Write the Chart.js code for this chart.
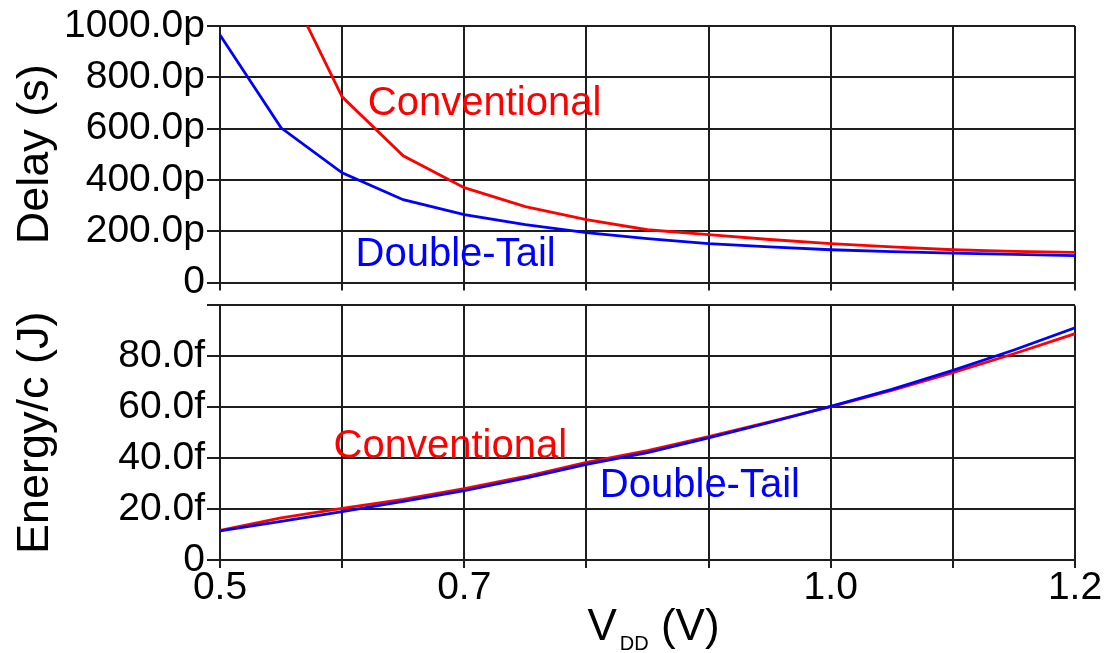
<!DOCTYPE html>
<html>
<head>
<meta charset="utf-8">
<script src="https://cdn.jsdelivr.net/npm/chart.js@4"></script>
<style>
  body { margin: 0; background: #fff; }
  #wrap { position: relative; width: 1105px; height: 653px; }
  #delayBox { position: absolute; left: 0; top: 0; }
  #energyBox { position: absolute; left: 0; top: 280px; }
</style>
</head>
<body>
<div id="wrap">
  <div id="delayBox"><canvas id="delayChart" width="1105" height="308"></canvas></div>
  <div id="energyBox"><canvas id="energyChart" width="1105" height="373"></canvas></div>
</div>
<script>
// --- Data ---
const vdd = [0.5, 0.55, 0.6, 0.65, 0.7, 0.75, 0.8, 0.85, 0.9, 0.95, 1.0, 1.05, 1.1, 1.15, 1.2];

// delay in ps
const delayConventional = [null, 1210, 724, 494, 370, 296, 245, 206, 187, 168, 152, 139, 128, 122, 118];
const delayDoubleTail   = [965, 603, 428, 323, 265, 226, 195, 171, 152, 139, 128, 121, 115, 110, 105];

// energy per cycle in fJ
const energyConventional = [11.6, 16.5, 20.3, 23.8, 28.0, 32.8, 38.3, 43.0, 48.5, 54.3, 60.2, 66.6, 73.6, 81.0, 88.9];
const energyDoubleTail   = [11.4, 15.2, 19.0, 23.0, 27.2, 32.2, 37.6, 42.2, 48.0, 54.0, 60.3, 67.0, 74.5, 82.5, 91.2];

// tick labels
const xTickLabels = ['0.5', '0.7', '1.0', '1.2'];
const delayTickLabels = ['0', '200.0p', '400.0p', '600.0p', '800.0p', '1000.0p'];
const energyTickLabels = ['0', '20.0f', '40.0f', '60.0f', '80.0f', ''];

// in-plot curve names (anchored in data units)
const delayNotes = [
    { text: 'Conventional', x: 0.621, y: 655, color: '#ff0000' },
    { text: 'Double-Tail', x: 0.611, y: 66, color: '#0000ff' }
];
const energyNotes = [
    { text: 'Conventional', x: 0.593, y: 40, color: '#ff0000' },
    { text: 'Double-Tail', x: 0.811, y: 24.7, color: '#0000ff' }
];

const RED = '#ff0000';
const BLUE = '#0000ff';
const GRID = '#1e1e1e';
const FONT = "'Liberation Sans', Arial, sans-serif";

function toPoints(ys) {
    return vdd.map((v, i) => ({ x: v, y: ys[i] }));
}

function lineSet(label, ys, color) {
    return {
        label: label,
        data: toPoints(ys),
        borderColor: color,
        borderWidth: 2.8,
        pointRadius: 0,
        tension: 0,
        fill: false
    };
}

// draws the curve names inside the plot
const notesPlugin = {
    id: 'notes',
    afterDatasetsDraw(chart, args, opts) {
        const ctx = chart.ctx;
        ctx.save();
        ctx.font = '40px ' + FONT;
        ctx.textAlign = 'left';
        ctx.textBaseline = 'alphabetic';
        (opts.items || []).forEach(n => {
            ctx.fillStyle = n.color;
            ctx.fillText(n.text, chart.scales.x.getPixelForValue(n.x), chart.scales.y.getPixelForValue(n.y));
        });
        ctx.restore();
    }
};

// x title with a subscript: V_DD (V)
const vddTitlePlugin = {
    id: 'vddTitle',
    afterDraw(chart, args, opts) {
        if (!opts.show) return;
        const ctx = chart.ctx;
        const a = chart.chartArea;
        const big = '44px ' + FONT;
        const small = '20px ' + FONT;
        ctx.save();
        ctx.fillStyle = '#000';
        ctx.textBaseline = 'alphabetic';
        ctx.font = big;
        const wV = ctx.measureText('V').width;
        const wRest = ctx.measureText(' (V)').width;
        ctx.font = small;
        const wSub = ctx.measureText('DD').width;
        const total = wV + 3 + wSub + wRest;
        let x = (a.left + a.right) / 2 - total / 2 + 6;
        const base = chart.height - 13;
        ctx.font = big;
        ctx.fillText('V', x, base);
        x += wV + 3;
        ctx.font = small;
        ctx.fillText('DD', x, base + 10);
        x += wSub;
        ctx.font = big;
        ctx.fillText(' (V)', x, base);
        ctx.restore();
    }
};

function xScale(showLabels, height) {
    return {
        type: 'linear',
        min: 0.5,
        max: 1.2,
        afterFit(scale) { scale.height = height; },
        ticks: {
            stepSize: 0.1,
            display: showLabels,
            color: '#000',
            font: { family: FONT, size: 39, lineHeight: 1 },
            padding: 1,
            maxRotation: 0,
            autoSkip: false,
            callback(value) {
                const s = Number(value).toFixed(1);
                return xTickLabels.includes(s) ? s : '';
            }
        },
        grid: { color: GRID, lineWidth: 2, tickLength: 8 },
        border: { color: GRID, width: 2 }
    };
}

function yScale(max, step, labels, title) {
    return {
        min: 0,
        max: max,
        afterFit(scale) { scale.width = 220; },
        ticks: {
            stepSize: step,
            color: '#000',
            font: { family: FONT, size: 39 },
            padding: 2,
            callback(value, index) { return labels[index]; }
        },
        grid: { color: GRID, lineWidth: 2, tickLength: 13 },
        border: { color: GRID, width: 2 },
        title: {
            display: true,
            text: title,
            color: '#000',
            font: { family: FONT, size: 45 },
            padding: { top: 9, bottom: 0 }
        }
    };
}

Chart.defaults.animation = false;

new Chart(document.getElementById('delayChart'), {
    type: 'line',
    data: {
        datasets: [
            lineSet('Double-Tail', delayDoubleTail, BLUE),
            lineSet('Conventional', delayConventional, RED)
        ]
    },
    options: {
        responsive: false,
        layout: { padding: { top: 26, right: 30, bottom: 0, left: 0 } },
        plugins: {
            legend: { display: false },
            tooltip: { enabled: false },
            notes: { items: delayNotes },
            vddTitle: { show: false }
        },
        scales: {
            x: xScale(false, 12),
            y: yScale(1000, 200, delayTickLabels, 'Delay (s)')
        }
    },
    plugins: [notesPlugin, vddTitlePlugin]
});

new Chart(document.getElementById('energyChart'), {
    type: 'line',
    data: {
        datasets: [
            lineSet('Double-Tail', energyDoubleTail, BLUE),
            lineSet('Conventional', energyConventional, RED)
        ]
    },
    options: {
        responsive: false,
        layout: { padding: { top: 25, right: 30, bottom: 0, left: 0 } },
        plugins: {
            legend: { display: false },
            tooltip: { enabled: false },
            notes: { items: energyNotes },
            vddTitle: { show: true }
        },
        scales: {
            x: xScale(true, 93),
            y: yScale(100, 20, energyTickLabels, 'Energy/c (J)')
        }
    },
    plugins: [notesPlugin, vddTitlePlugin]
});
</script>
</body>
</html>
